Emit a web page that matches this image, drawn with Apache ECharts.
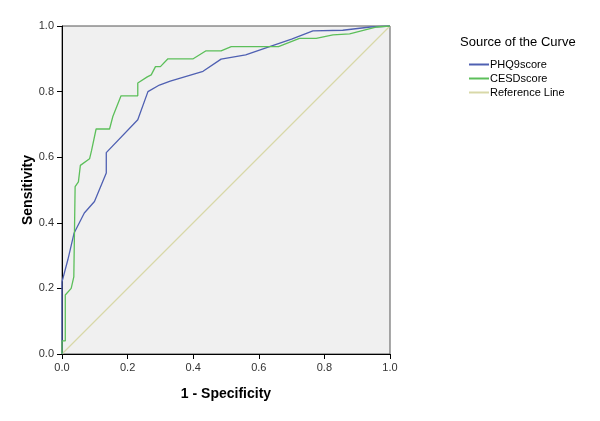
<!DOCTYPE html>
<html>
<head>
<meta charset="utf-8">
<title>ROC Curve</title>
<script src="https://cdn.jsdelivr.net/npm/echarts@6/dist/echarts.min.js"></script>
<style type="text/css">
	html, body { margin: 0; padding: 0; background: #fff; }
	#chart { width: 600px; height: 421px; }
</style>
</head>
<body>
<div id="chart"></div>
<script type="text/javascript">
	// 1 - specificity / sensitivity
	var phqFpr = [0, 0, 0.018, 0.037, 0.068, 0.099, 0.135, 0.135, 0.231, 0.262, 0.297, 0.33, 0.43, 0.485, 0.56, 0.633, 0.7, 0.765, 0.856, 0.94, 1];
	var phqTpr = [0, 0.22, 0.288, 0.369, 0.43, 0.465, 0.552, 0.614, 0.714, 0.8, 0.82, 0.832, 0.862, 0.899, 0.912, 0.937, 0.96, 0.985, 0.987, 0.997, 1];
	var cesdFpr = [0, 0, 0.01, 0.01, 0.013, 0.028, 0.036, 0.04, 0.04, 0.05, 0.056, 0.084, 0.09, 0.104, 0.145, 0.155, 0.16, 0.18, 0.231, 0.231, 0.26, 0.272, 0.285, 0.3, 0.323, 0.4, 0.438, 0.485, 0.516, 0.66, 0.724, 0.775, 0.826, 0.877, 0.96, 1];
	var cesdTpr = [0, 0.04, 0.04, 0.18, 0.18, 0.2, 0.235, 0.24, 0.51, 0.525, 0.575, 0.595, 0.62, 0.686, 0.686, 0.724, 0.727, 0.787, 0.787, 0.826, 0.845, 0.851, 0.876, 0.876, 0.9, 0.9, 0.924, 0.924, 0.937, 0.937, 0.962, 0.962, 0.973, 0.976, 0.997, 1];
	var refX = [0, 1];
	var refY = [0, 1];
	var seriesNames = ['PHQ9score', 'CESDscore', 'Reference Line'];

	function pairs(xs, ys) {
		var out = [];
		for (var i = 0; i < xs.length; i++) out.push([xs[i], ys[i]]);
		return out;
	}

	var font = '"Liberation Sans", Arial, sans-serif';
	var chart = echarts.init(document.getElementById('chart'));

	var axisCommon = {
		type: 'value',
		min: 0,
		max: 1,
		interval: 0.2,
		nameLocation: 'middle',
		nameMoveOverlap: false,
		nameTextStyle: { fontFamily: font, fontSize: 14, fontWeight: 'bold', color: '#000' },
		axisLine: { lineStyle: { color: '#000', width: 1 } },
		axisTick: { show: true, length: 5, lineStyle: { color: '#000' } },
		axisLabel: {
			fontFamily: font, fontSize: 11, color: '#333',
			formatter: function (v) { return v.toFixed(1); }
		},
		splitLine: { show: false }
	};

	var option = {
		backgroundColor: '#fff',
		animation: false,
		grid: {
			left: 62, right: 210, top: 26, bottom: 67,
			show: true, backgroundColor: '#f0f0f0', borderColor: '#555', borderWidth: 1
		},
		graphic: [{
			type: 'text', left: 460, top: 36,
			style: { text: 'Source of the Curve', font: '13px ' + font, fill: '#000' }
		}],
		legend: {
			orient: 'vertical', left: 464, top: 54,
			itemWidth: 20, itemHeight: 2, itemGap: 3, icon: 'rect',
			textStyle: { fontFamily: font, fontSize: 11, color: '#000', padding: [0, 0, 0, -4] },
			data: seriesNames
		},
		xAxis: Object.assign({}, axisCommon, { name: '1 - Specificity', nameGap: 33 }),
		yAxis: Object.assign({}, axisCommon, { name: 'Sensitivity', nameGap: 27 }),
		series: [
			{
				name: seriesNames[0], type: 'line', data: pairs(phqFpr, phqTpr),
				showSymbol: false, lineStyle: { color: '#4f60b2', width: 1.3 }, itemStyle: { color: '#4f60b2' }, z: 3
			},
			{
				name: seriesNames[1], type: 'line', data: pairs(cesdFpr, cesdTpr),
				showSymbol: false, lineStyle: { color: '#5cbf5a', width: 1.3 }, itemStyle: { color: '#5cbf5a' }, z: 4
			},
			{
				name: seriesNames[2], type: 'line', data: pairs(refX, refY),
				showSymbol: false, lineStyle: { color: '#d8d8a8', width: 1.2 }, itemStyle: { color: '#d8d8a8' }, z: 2
			}
		]
	};
	chart.setOption(option);
</script>
</body>
</html>
